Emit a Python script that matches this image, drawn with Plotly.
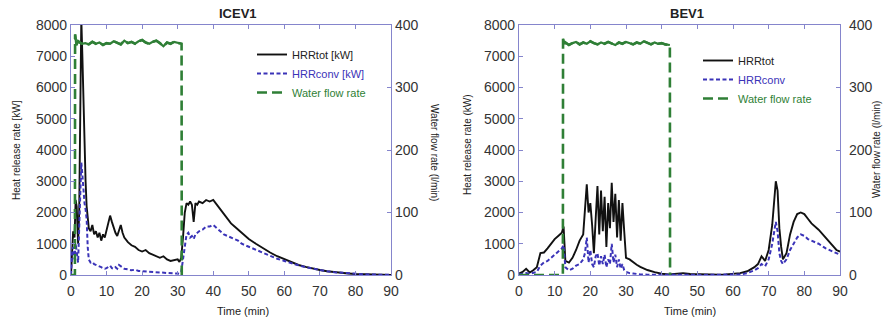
import plotly.graph_objects as go

# ---------------- data ----------------
x_ticks = [0, 10, 20, 30, 40, 50, 60, 70, 80, 90]
hrr_ticks = [0, 1000, 2000, 3000, 4000, 5000, 6000, 7000, 8000]
flow_ticks = [0, 100, 200, 300, 400]

# ICEV1 (time min, kW)
icev_hrr_tot = [(0,0),(0.3,900),(0.6,1400),(1.0,1200),(1.3,2400),(1.6,2200),(2.0,1000),(2.3,2000),
    (2.6,5000),(2.9,8200),(3.2,7000),(3.5,5500),(3.8,4200),(4.1,3000),(4.4,2200),(4.7,1700),(5.0,1500),
    (5.5,1400),(6,1600),(6.5,1300),(7,1400),(7.5,1200),(8,1350),(8.5,1100),(9,1300),(9.5,1200),(10,1450),
    (10.5,1700),(11,1900),(11.5,1700),(12,1500),(12.5,1350),(13,1250),(13.5,1400),(14,1600),(14.5,1350),
    (15,1200),(16,1050),(17,950),(18,900),(19,800),(20,750),(21,800),(22,700),(23,650),(24,600),(25,550),
    (26,600),(27,500),(28,450),(29,480),(30,500),(30.5,420),(31,550),(31.5,1200),(32,2000),(32.5,2300),
    (33,2250),(33.5,2350),(34,2250),(34.5,1700),(35,2300),(35.5,2250),(36,2350),(37,2300),(38,2400),
    (39,2350),(40,2400),(41,2250),(42,2100),(43,1950),(44,1800),(45,1650),(46,1550),(47,1450),(48,1350),
    (49,1250),(50,1150),(52,1000),(54,850),(56,720),(58,600),(60,500),(62,400),(64,320),(66,260),(68,200),
    (70,160),(72,120),(74,90),(76,70),(78,50),(80,30),(82,20),(84,15),(86,10),(88,5),(90,0)]
icev_hrr_conv = [(0,0),(0.3,700),(0.6,900),(1.0,500),(1.3,1000),(1.6,800),(2.0,400),(2.3,1500),
    (2.6,2800),(2.9,3600),(3.2,3200),(3.5,2600),(3.8,2300),(4.1,2100),(4.4,1800),(4.7,900),(5.0,500),
    (5.5,400),(6,420),(6.5,350),(7,330),(7.5,300),(8,280),(8.5,250),(9,220),(9.5,200),(10,220),(10.5,260),
    (11,300),(11.5,220),(12,200),(12.5,250),(13,200),(13.5,320),(14,280),(14.5,220),(15,200),(16,180),
    (17,150),(18,170),(19,130),(20,120),(21,110),(22,100),(23,90),(24,80),(25,80),(26,70),(27,60),(28,60),
    (29,50),(30,50),(30.5,40),(31,100),(31.5,500),(32,900),(32.5,1300),(33,1350),(33.5,1200),(34,1250),
    (34.5,1150),(35,1300),(35.5,1350),(36,1400),(37,1450),(38,1550),(39,1550),(40,1600),(41,1500),
    (42,1400),(43,1300),(44,1250),(45,1200),(46,1150),(47,1100),(48,1000),(49,950),(50,900),(52,800),
    (54,700),(56,620),(58,520),(60,450),(62,370),(64,310),(66,250),(68,200),(70,160),(72,120),(74,90),
    (76,70),(78,50),(80,35),(82,25),(84,15),(86,10),(88,10),(90,5)]
# ICEV1 water flow (time min, l/min)
icev_water = [(0,0),(1.1,0),(1.15,385),(1.5,368),(2,374),(3,370),(4,371),(5,369),(6,373),(7,370),(8,372),
    (9,368),(10,371),(11,370),(12,374),(13,372),(14,369),(15,375),(16,371),(17,373),(18,370),(19,374),
    (20,376),(21,372),(22,370),(23,373),(24,375),(25,371),(26,366),(27,372),(28,370),(29,373),(30,371),
    (31.1,370),(31.15,0)]

# BEV1 (time min, kW)
bev_hrr_tot = [(0,50),(1,100),(2,200),(3,80),(4,150),(5,250),(6,700),(7,720),(8,850),(9,1000),(10,1150),
    (11,1250),(12,1350),(12.5,1550),(13,450),(14,400),(15,550),(16,800),(17,1100),(18,1300),(18.5,2200),
    (19,2900),(19.5,2000),(20,2300),(20.5,1600),(21,700),(21.5,1800),(22,2850),(22.5,1300),(23,2700),
    (23.5,1400),(24,2500),(24.5,900),(25,2300),(25.5,1500),(26,2950),(26.5,1700),(27,2600),(27.5,1200),
    (28,2400),(28.5,1100),(29,2300),(29.5,1400),(30,550),(31,500),(32,400),(33,330),(34,260),(36,160),
    (38,90),(40,40),(42,20),(44,40),(46,60),(48,30),(50,20),(52,15),(54,10),(56,10),(58,15),(60,30),
    (62,60),(64,120),(65,180),(66,250),(67,350),(68,600),(69,450),(70,800),(71,1600),(72,3000),(72.5,2700),
    (73,1500),(73.5,900),(74,500),(75,700),(76,1300),(77,1700),(78,1950),(79,2000),(80,1950),(81,1800),
    (82,1650),(84,1450),(86,1200),(88,950),(89,800),(90,750)]
bev_hrr_conv = [(0,20),(1,50),(2,60),(3,40),(4,60),(5,100),(6,300),(7,400),(8,450),(9,550),(10,650),
    (11,750),(12,850),(12.5,950),(13,250),(14,150),(15,200),(16,300),(17,350),(18,500),(18.5,700),(19,1200),
    (19.5,400),(20,800),(20.5,350),(21,250),(21.5,600),(22,700),(22.5,300),(23,600),(23.5,350),(24,650),
    (24.5,250),(25,500),(25.5,350),(26,1000),(26.5,400),(27,650),(27.5,250),(28,500),(28.5,200),(29,350),
    (29.5,150),(30,100),(31,60),(32,50),(33,30),(34,20),(36,10),(38,10),(40,10),(42,10),(44,20),(46,30),
    (48,10),(50,0),(52,0),(54,0),(56,0),(58,0),(60,0),(62,20),(64,60),(65,100),(66,150),(67,220),(68,350),
    (69,280),(70,500),(71,1000),(72,1700),(72.5,1400),(73,700),(73.5,450),(74,350),(75,500),(76,800),
    (77,1000),(78,1200),(79,1300),(80,1250),(81,1150),(82,1100),(84,1000),(86,850),(88,750),(89,700),(90,650)]
# BEV1 water flow (time min, l/min)
bev_water = [(0,0),(12.3,0),(12.35,378),(12.8,370),(13,372),(14,368),(15,371),(16,373),(17,369),(18,372),
    (19,370),(20,374),(21,371),(22,369),(23,372),(24,370),(25,373),(26,371),(27,368),(28,372),(29,370),
    (30,373),(31,371),(32,369),(33,372),(34,370),(35,374),(36,371),(37,369),(38,372),(39,370),(40,371),
    (41,369),(42.3,368),(42.35,0)]

# ---------------- style ----------------
AXIS_COLOR = "#8585cc"
TICK_COLOR = "#333333"
C_TOT = "#111111"
C_CONV = "#3a33b8"
C_WATER = "#2f7f36"
FONT = "Liberation Sans, Arial, sans-serif"

def xs(p): return [a for a, _ in p]
def ys(p): return [b for _, b in p]

fig = go.Figure()

def add_panel(tot, conv, water, xa, ya, ya2, legend, tot_name, conv_name):
    fig.add_trace(go.Scatter(x=xs(tot), y=ys(tot), mode="lines", name=tot_name,
                             line=dict(color=C_TOT, width=1.9), xaxis=xa, yaxis=ya, legend=legend))
    fig.add_trace(go.Scatter(x=xs(conv), y=ys(conv), mode="lines", name=conv_name,
                             line=dict(color=C_CONV, width=2, dash="4px,2.5px"), xaxis=xa, yaxis=ya, legend=legend))
    fig.add_trace(go.Scatter(x=xs(water), y=ys(water), mode="lines",
                             name="<span style='color:%s'>Water flow rate</span>" % C_WATER,
                             line=dict(color=C_WATER, width=2.6, dash="10px,5px"), xaxis=xa, yaxis=ya2, legend=legend))
    plateau = [p for p in water if p[1] > 300]
    fig.add_trace(go.Scatter(x=xs(plateau), y=ys(plateau), mode="lines", showlegend=False,
                             line=dict(color=C_WATER, width=2.2), xaxis=xa, yaxis=ya2, hoverinfo="skip"))

add_panel(icev_hrr_tot, icev_hrr_conv, icev_water, "x", "y", "y2", "legend",
          "HRRtot [kW]", "<span style='color:%s'>HRRconv [kW]</span>" % C_CONV)
add_panel(bev_hrr_tot, bev_hrr_conv, bev_water, "x2", "y3", "y4", "legend2",
          "HRRtot", "<span style='color:%s'>HRRconv</span>" % C_CONV)

W, H = 885, 320
ydom = [1 - 275 / H, 1 - 25 / H]
xdom1 = [71 / W, 391 / W]
xdom2 = [519 / W, 840 / W]

tickfont = dict(family=FONT, size=14, color=TICK_COLOR)
common = dict(showline=True, linecolor=AXIS_COLOR, linewidth=1.2, ticks="inside", ticklen=4,
              tickcolor=AXIS_COLOR, showgrid=False, zeroline=False, tickfont=tickfont, automargin=False)

xax = dict(range=[0, 90], tickvals=x_ticks, mirror="ticks", ticklabelstandoff=3, **common)
yl = dict(range=[0, 8000], tickvals=hrr_ticks, domain=ydom, **common)
yr = dict(range=[0, 400], tickvals=flow_ticks, side="right", **common)

fig.update_layout(
    template="none",
    width=W, height=H, margin=dict(l=0, r=0, t=0, b=0, autoexpand=False),
    paper_bgcolor="white", plot_bgcolor="white",
    font=dict(family=FONT, color=TICK_COLOR),
    xaxis=dict(domain=xdom1, anchor="y", **xax),
    xaxis2=dict(domain=xdom2, anchor="y3", **xax),
    yaxis=dict(anchor="x", **yl),
    yaxis2=dict(anchor="x", overlaying="y", **yr),
    yaxis3=dict(anchor="x2", **yl),
    yaxis4=dict(anchor="x2", overlaying="y3", ticklabelstandoff=5, **yr),
    legend=dict(x=252 / W, y=1 - 40 / H, xanchor="left", yanchor="top", bgcolor="rgba(0,0,0,0)",
                font=dict(family=FONT, size=11, color="#222222"), tracegroupgap=0),
    legend2=dict(x=698 / W, y=1 - 46 / H, xanchor="left", yanchor="top", bgcolor="rgba(0,0,0,0)",
                 font=dict(family=FONT, size=11, color="#222222"), tracegroupgap=0),
    showlegend=True,
)

def ann(text, x, y, size, angle=0, bold=False):
    fig.add_annotation(text=("<b>%s</b>" % text) if bold else text, x=x / W, y=1 - y / H,
                       xref="paper", yref="paper", showarrow=False, textangle=angle,
                       font=dict(family=FONT, size=size, color="#222222"),
                       xanchor="center", yanchor="middle")

ann("ICEV1", 238, 14, 13, bold=True)
ann("BEV1", 687, 14, 13, bold=True)
ann("Time (min)", 243, 311, 11)
ann("Time (min)", 690, 311, 11)
ann("Heat release rate [kW]", 16, 150, 10, angle=-90)
ann("Water flow rate (l/min)", 435, 152, 10, angle=90)
ann("Heat release rate (kW)", 467, 145, 10, angle=-90)
ann("Water flow rate (l/min)", 876, 150, 10, angle=-90)

fig.write_html("out.html", config={"displayModeBar": False},
               post_script="document.body.style.margin='0';document.body.style.overflow='hidden';")
